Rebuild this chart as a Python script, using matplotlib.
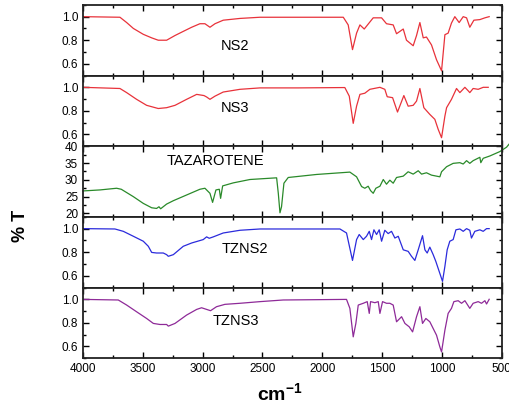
import matplotlib
matplotlib.use("Agg")
import matplotlib.pyplot as plt
from matplotlib.ticker import MultipleLocator

plt.rcParams['font.family'] = ['Liberation Sans', 'DejaVu Sans']
plt.rcParams['mathtext.fontset'] = 'custom'
plt.rcParams['mathtext.rm'] = 'Liberation Sans'
plt.rcParams['mathtext.bf'] = 'Liberation Sans:bold'

# NS2
ns2_wn = [4000, 3691, 3635, 3579, 3496, 3426, 3371, 3301, 3231, 3162, 3092, 3023, 2981, 2939,
          2897, 2828, 2688, 2521, 2200, 1825, 1784, 1748, 1714, 1686, 1650, 1575, 1505, 1464,
          1408, 1380, 1324, 1297, 1241, 1213, 1185, 1157, 1130, 1088, 1046, 1004, 976, 949,
          921, 893, 857, 823, 795, 768, 734, 684, 642, 606]
ns2_t = [1.0, 0.995, 0.95, 0.90, 0.85, 0.82, 0.80, 0.80, 0.84, 0.875, 0.91, 0.94, 0.94, 0.91,
         0.94, 0.97, 0.985, 0.995, 0.995, 0.995, 0.93, 0.72, 0.86, 0.93, 0.895, 0.99, 0.99, 0.94,
         0.93, 0.855, 0.895, 0.80, 0.753, 0.84, 0.95, 0.82, 0.827, 0.76, 0.634, 0.54, 0.847, 0.86,
         0.946, 1.0, 0.95, 1.0, 0.99, 0.91, 0.97, 0.975, 0.99, 1.0]

# NS3
ns3_wn = [4000, 3691, 3635, 3552, 3468, 3371, 3301, 3231, 3134, 3050, 2989, 2967, 2939, 2897,
          2828, 2688, 2521, 2200, 1812, 1775, 1742, 1714, 1686, 1645, 1603, 1519, 1478, 1458,
          1413, 1372, 1319, 1283, 1241, 1213, 1185, 1152, 1102, 1060, 1032, 1004, 976, 962,
          921, 879, 851, 809, 781, 768, 740, 698, 656, 614]
ns3_t = [1.0, 0.99, 0.955, 0.898, 0.847, 0.82, 0.827, 0.847, 0.898, 0.94, 0.93, 0.918, 0.898, 0.925,
         0.96, 0.983, 0.995, 0.995, 0.998, 0.925, 0.694, 0.84, 0.94, 0.95, 0.983, 1.0, 0.983, 0.92,
         0.912, 0.79, 0.93, 0.84, 0.847, 0.883, 0.99, 0.827, 0.77, 0.728, 0.643, 0.572, 0.756, 0.827,
         0.898, 0.99, 0.955, 1.0, 0.97, 0.955, 0.99, 0.983, 1.0, 1.0]

# TAZAROTENE
taz_wn = [4000, 3858, 3719, 3680, 3579, 3496, 3426, 3385, 3365, 3351, 3301, 3245, 3134, 3023,
          2981, 2939, 2917, 2889, 2861, 2850, 2833, 2744, 2605, 2382, 2368, 2354, 2341, 2321,
          2285, 2048, 1770, 1714, 1672, 1645, 1617, 1597, 1575, 1553, 1519, 1491, 1464, 1436,
          1408, 1380, 1324, 1283, 1241, 1199, 1171, 1130, 1088, 1018, 1004, 962, 907, 851,
          823, 795, 768, 740, 684, 676, 656, 600, 517, 461, 440]
taz_t = [26.7, 27.0, 27.5, 27.2, 25.0, 23.0, 21.7, 21.5, 22.0, 21.4, 22.8, 23.8, 25.5, 27.2,
         27.5, 26.0, 23.3, 27.0, 27.2, 24.5, 28.2, 29.1, 30.1, 30.6, 26.0, 20.2, 22.0, 29.0,
         30.7, 31.6, 32.3, 30.9, 28.0, 27.5, 28.1, 26.8, 26.0, 27.5, 28.1, 30.1, 28.7, 29.9,
         29.0, 30.7, 31.1, 32.4, 31.7, 32.7, 31.7, 32.1, 31.4, 30.9, 32.4, 33.9, 34.9, 35.1,
         34.7, 35.7, 34.9, 35.7, 36.7, 35.1, 36.4, 37.1, 38.4, 39.7, 40.6]

# TZNS2
tzns2_wn = [4000, 3733, 3663, 3579, 3496, 3454, 3426, 3385, 3329, 3301, 3287, 3245, 3162, 3092,
            2995, 2967, 2945, 2911, 2828, 2688, 2521, 1853, 1798, 1748, 1714, 1692, 1658, 1631,
            1608, 1589, 1569, 1547, 1525, 1505, 1478, 1450, 1422, 1394, 1366, 1324, 1283, 1255,
            1227, 1199, 1163, 1143, 1124, 1102, 1074, 1052, 1024, 996, 976, 957, 935, 907,
            884, 851, 823, 795, 768, 754, 726, 684, 656, 628, 606]
tzns2_t = [1.0, 0.997, 0.977, 0.935, 0.893, 0.85, 0.798, 0.793, 0.793, 0.779, 0.765, 0.779, 0.85, 0.878,
           0.907, 0.93, 0.918, 0.93, 0.963, 0.986, 0.997, 0.997, 0.963, 0.73, 0.907, 0.95, 0.907, 0.935,
           0.977, 0.907, 0.99, 0.95, 0.99, 0.893, 0.986, 0.958, 0.977, 0.92, 0.935, 0.82, 0.807, 0.765,
           0.73, 0.82, 0.94, 0.82, 0.793, 0.843, 0.779, 0.722, 0.637, 0.552, 0.68, 0.82, 0.893, 0.907,
           0.99, 0.997, 0.977, 1.0, 0.986, 0.92, 0.977, 0.99, 0.977, 1.0, 1.0]

# TZNS3
tzns3_wn = [4000, 3705, 3635, 3552, 3468, 3412, 3357, 3301, 3287, 3231, 3134, 3050, 3009, 2967,
            2934, 2884, 2814, 2688, 2521, 2327, 1798, 1770, 1742, 1720, 1700, 1658, 1625, 1608,
            1597, 1561, 1533, 1519, 1497, 1464, 1436, 1408, 1380, 1338, 1310, 1274, 1246, 1213,
            1185, 1163, 1135, 1102, 1074, 1046, 1018, 1004, 976, 949, 921, 901, 865, 837,
            809, 768, 740, 698, 670, 642, 628, 606]
tzns3_t = [0.999, 0.994, 0.951, 0.894, 0.837, 0.795, 0.786, 0.786, 0.772, 0.795, 0.866, 0.914, 0.928, 0.914,
           0.903, 0.937, 0.957, 0.966, 0.98, 0.994, 0.999, 0.923, 0.681, 0.795, 0.951, 0.966, 0.98, 0.88,
           0.98, 0.971, 0.98, 0.88, 0.98, 0.966, 0.966, 0.951, 0.809, 0.852, 0.795, 0.766, 0.723, 0.852,
           0.937, 0.795, 0.837, 0.809, 0.752, 0.695, 0.595, 0.553, 0.738, 0.88, 0.923, 0.98, 0.988, 0.966,
           0.988, 0.923, 0.966, 0.98, 0.966, 0.988, 0.96, 1.0]

names = ['NS2', 'NS3', 'TAZAROTENE', 'TZNS2', 'TZNS3']
colors = ['#e8323a', '#e8323a', '#2a8a2a', '#2b2bdc', '#8e2a98']
series = [(ns2_wn, ns2_t), (ns3_wn, ns3_t), (taz_wn, taz_t), (tzns2_wn, tzns2_t), (tzns3_wn, tzns3_t)]
label_pos = [(0.33, 0.42), (0.33, 0.54), (0.20, 0.79), (0.33, 0.55), (0.31, 0.52)]

fig, axes = plt.subplots(5, 1, figsize=(5.09, 4.07), dpi=100, sharex=True)
fig.subplots_adjust(left=0.163, right=0.986, top=0.988, bottom=0.120, hspace=0)

for i, ax in enumerate(axes):
    wn, t = series[i]
    ax.plot(wn, t, color=colors[i], lw=0.9, clip_on=(i != 2))
    ax.set_xlim(4000, 500)
    if i == 2:
        ax.set_ylim(19, 40)
        ax.yaxis.set_major_locator(MultipleLocator(5))
        ax.yaxis.set_minor_locator(MultipleLocator(2.5))
    else:
        ax.set_ylim(0.5, 1.1)
        ax.set_yticks([0.6, 0.8, 1.0])
        ax.yaxis.set_minor_locator(MultipleLocator(0.1))
    ax.xaxis.set_major_locator(MultipleLocator(500))
    ax.xaxis.set_minor_locator(MultipleLocator(250))
    ax.tick_params(which='both', direction='in', top=True, right=True, labelsize=8.5, width=1.0)
    ax.tick_params(which='major', length=4)
    ax.tick_params(which='minor', length=2)
    for sp in ax.spines.values():
        sp.set_linewidth(1.3)
        sp.set_color('#222222')
    ax.text(label_pos[i][0], label_pos[i][1], names[i], transform=ax.transAxes,
            fontsize=10.5, va='center', ha='left')

fig.text(0.04, 0.445, '% T', rotation=90, fontsize=13, fontweight='bold', ha='center', va='center')
fig.text(0.55, 0.035, r'$\mathbf{cm^{-1}}$', fontsize=14, ha='center', va='center')

fig.savefig('out.png', dpi=100)
